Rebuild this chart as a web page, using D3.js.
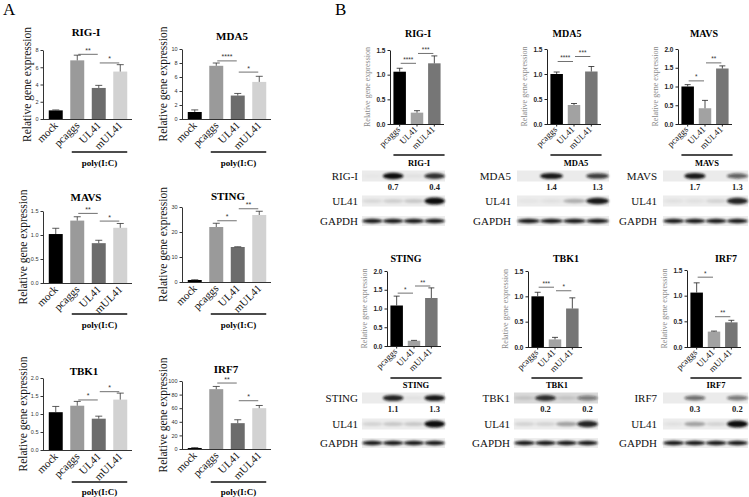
<!DOCTYPE html>
<html><head><meta charset="utf-8">
<script src="https://cdn.jsdelivr.net/npm/d3@7"></script>
<style>body{margin:0;background:#fff}svg{display:block}</style>
</head><body>
<svg id="c" width="749" height="497"></svg>
<script>
// ---------------- DATA ----------------
// Panel A (qPCR, poly(I:C) stimulated)
const aCategories = ["mock", "pcaggs", "UL41", "mUL41"];
const aGroupLabel = "poly(I:C)";
const aGenes = ["RIG-I", "MDA5", "MAVS", "STING", "TBK1", "IRF7"];
const aRigiMean = [1.0, 6.8, 3.6, 5.5];
const aRigiTop  = [1.05, 7.4, 3.9, 6.3];
const aRigiTicks = ["0", "2", "4", "6", "8"];
const aRigiSig = [[1, 2, "**", 7.5], [2, 3, "*", 6.5]];
const aMda5Mean = [1.0, 7.6, 3.35, 5.3];
const aMda5Top  = [1.3, 8.0, 3.65, 6.1];
const aMda5Ticks = ["0", "2", "4", "6", "8", "10"];
const aMda5Sig = [[1, 2, "****", 8.3], [2, 3, "*", 6.7]];
const aMavsMean = [1.02, 1.30, 0.83, 1.15];
const aMavsTop  = [1.14, 1.38, 0.89, 1.24];
const aMavsTicks = ["0.0", "0.5", "1.0", "1.5"];
const aMavsSig = [[1, 2, "**", 1.45], [2, 3, "*", 1.29]];
const aStingMean = [0.8, 22, 14, 26.8];
const aStingTop  = [0.9, 23.5, 14.1, 28.3];
const aStingTicks = ["0", "10", "20", "30"];
const aStingSig = [[1, 2, "*", 24.5], [2, 3, "**", 29.3]];
const aTbk1Mean = [1.05, 1.23, 0.87, 1.40];
const aTbk1Top  = [1.21, 1.35, 0.94, 1.58];
const aTbk1Ticks = ["0.0", "0.5", "1.0", "1.5", "2.0"];
const aTbk1Sig = [[1, 2, "*", 1.39], [2, 3, "*", 1.62]];
const aIrf7Mean = [1.5, 88, 38, 60];
const aIrf7Top  = [2, 92, 43, 64];
const aIrf7Ticks = ["0", "20", "40", "60", "80", "100"];
const aIrf7Sig = [[1, 2, "**", 97], [2, 3, "*", 71]];

// Panel B (qPCR + western blot)
const bCategories = ["pcaggs", "UL41", "mUL41"];
const bRigiMean = [1.06, 0.23, 1.23];
const bRigiTop  = [1.13, 0.27, 1.38];
const bMda5Mean = [1.0, 0.38, 1.05];
const bMda5Top  = [1.04, 0.41, 1.15];
const bMavsMean = [1.0, 0.42, 1.48];
const bMavsTop  = [1.05, 0.63, 1.55];
const bStingMean = [1.08, 0.14, 1.28];
const bStingTop  = [1.33, 0.15, 1.55];
const bTbk1Mean = [1.0, 0.15, 0.76];
const bTbk1Top  = [1.08, 0.19, 0.97];
const bIrf7Mean = [1.06, 0.30, 0.48];
const bIrf7Top  = [1.25, 0.31, 0.52];
const bTicks15 = ["0.0", "0.5", "1.0", "1.5"];
const bTicks20 = ["0.0", "0.5", "1.0", "1.5", "2.0"];
const bRigiSig = [[0, 1, "****", 1.23], [1, 2, "***", 1.43]];
const bMda5Sig = [[0, 1, "****", 1.25], [1, 2, "***", 1.35]];
const bMavsSig = [[0, 1, "*", 1.15], [1, 2, "**", 1.63]];
const bStingSig = [[0, 1, "*", 1.41], [1, 2, "**", 1.6]];
const bTbk1Sig = [[0, 1, "***", 1.18], [1, 2, "*", 1.11]];
const bIrf7Sig = [[0, 1, "*", 1.36], [1, 2, "**", 0.59]];

// Western blot band intensities (4 lanes) and quantification numbers
const blotRigi = [0.02, 0.95, 0.05, 0.8];   const blotRigiNums = ["0.7", "0.4"];
const blotMda5 = [0.0, 0.9, 0.0, 0.75];     const blotMda5Nums = ["1.4", "1.3"];
const blotMavs = [0.0, 0.9, 0.0, 0.6];      const blotMavsNums = ["1.7", "1.3"];
const blotSting = [0.0, 0.85, 0.05, 0.9];   const blotStingNums = ["1.1", "1.3"];
const blotTbk1 = [0.1, 0.8, 0.1, 0.45];     const blotTbk1Nums = ["0.2", "0.2"];
const blotIrf7 = [0.0, 0.55, 0.0, 0.5];     const blotIrf7Nums = ["0.3", "0.2"];
const blotUl41Rigi = [0.08, 0.12, 0.15, 1.0];
const blotUl41Mda5 = [0.03, 0.05, 0.25, 0.9];
const blotUl41Mavs = [0.05, 0.05, 0.1, 0.85];
const blotUl41Sting = [0.1, 0.15, 0.15, 0.95];
const blotUl41Tbk1 = [0.1, 0.1, 0.3, 0.85];
const blotUl41Irf7 = [0.05, 0.3, 0.1, 1.0];
const blotGapdh = [0.9, 0.9, 0.9, 0.9];

// ---------------- DRAWING ----------------
const svg = d3.select("#c");
const SERIF = "'Liberation Serif','Times New Roman',serif";
const SANS = "'Liberation Sans',Arial,sans-serif";
const aColors = ["#000000", "#9a9a9a", "#6c6c6c", "#d2d2d2"];
const bColors = ["#000000", "#a2a2a2", "#767676"];

const defs = svg.append("defs");
defs.append("filter").attr("id", "blur").attr("x", "-20%").attr("y", "-50%").attr("width", "140%").attr("height", "200%")
  .append("feGaussianBlur").attr("stdDeviation", 0.9);

function barChart(c) {
  const g = svg.append("g");
  const tickVals = c.ticks.map(Number);
  const y = d3.scaleLinear().domain([0, d3.max(tickVals)]).range([c.yBot, c.yTop]);
  const x = d3.scaleBand().domain(c.cats).range([c.axisX + c.r0, c.axisX + c.r1])
    .paddingInner(c.pi).paddingOuter(c.po);
  const cx = d => x(d) + x.bandwidth() / 2;

  // bars
  g.selectAll("rect.bar").data(c.cats).join("rect")
    .attr("x", d => x(d)).attr("width", x.bandwidth())
    .attr("y", (d, i) => y(c.means[i])).attr("height", (d, i) => c.yBot - y(c.means[i]))
    .attr("fill", (d, i) => c.colors[i]);
  // error bars (upper)
  const eb = g.selectAll("g.err").data(c.cats).join("g").attr("stroke", c.axisColor).attr("stroke-width", 0.8);
  eb.append("line").attr("x1", cx).attr("x2", cx)
    .attr("y1", (d, i) => y(c.means[i])).attr("y2", (d, i) => y(c.tops[i]));
  eb.append("line").attr("x1", d => cx(d) - c.cap).attr("x2", d => cx(d) + c.cap)
    .attr("y1", (d, i) => y(c.tops[i])).attr("y2", (d, i) => y(c.tops[i]));

  // y axis
  const ya = g.append("g").attr("transform", `translate(${c.axisX},0)`)
    .call(d3.axisLeft(y).tickValues(tickVals).tickFormat((d, i) => c.ticks[i]).tickSize(c.tickLen).tickSizeOuter(0).tickPadding(2));
  ya.select(".domain").attr("stroke", c.axisColor).attr("stroke-width", c.axisW);
  ya.selectAll(".tick line").attr("stroke", c.axisColor).attr("stroke-width", c.axisW);
  ya.selectAll(".tick text").attr("font-family", SANS).attr("font-size", c.tickFont)
    .attr("font-weight", c.tickWeight).attr("fill", c.tickColor);

  // x axis
  const xa = g.append("g").attr("transform", `translate(0,${c.yBot})`)
    .call(d3.axisBottom(x).tickSize(c.xTickLen).tickSizeOuter(0).tickFormat(""));
  xa.select(".domain").attr("d", `M${c.axisX},0.5H${c.axisX + c.r1 + 1}`).attr("stroke", c.axisColor).attr("stroke-width", c.axisW);
  xa.selectAll(".tick line").attr("stroke", c.axisColor).attr("stroke-width", c.axisW);

  // category labels
  g.selectAll("text.cat").data(c.cats).join("text")
    .attr("transform", d => `translate(${cx(d) + c.catDx},${c.yBot + c.catDy}) rotate(-45)`)
    .attr("text-anchor", "end").attr("font-family", SERIF).attr("font-size", c.catFont)
    .attr("fill", "#111").text(d => d);

  // y label
  g.append("text").attr("transform", `translate(${c.axisX + c.ylabDx},${(c.yTop + c.yBot) / 2 + c.ylabDy}) rotate(-90)`)
    .attr("text-anchor", "middle").attr("font-family", SERIF).attr("font-size", c.ylabFont)
    .attr("fill", c.ylabColor).text("Relative  gene  expression");

  // title
  g.append("text").attr("x", c.titleX).attr("y", c.titleY).attr("text-anchor", "middle")
    .attr("font-family", SERIF).attr("font-weight", "bold").attr("font-size", c.titleFont).text(c.title);

  // significance brackets
  const sg = g.selectAll("g.sig").data(c.sig).join("g");
  sg.append("line").attr("x1", d => cx(c.cats[d[0]]) + 1).attr("x2", d => cx(c.cats[d[1]]) - 1)
    .attr("y1", d => y(d[3])).attr("y2", d => y(d[3])).attr("stroke", "#333").attr("stroke-width", 0.7);
  sg.append("text").attr("x", d => (cx(c.cats[d[0]]) + cx(c.cats[d[1]])) / 2).attr("y", d => y(d[3]) + c.sigDy)
    .attr("text-anchor", "middle").attr("font-family", SANS).attr("font-size", c.sigFont).attr("fill", "#333").text(d => d[2]);

  // group line + label
  const gx0 = x(c.cats[c.groupFrom]) + c.groupInset, gx1 = x(c.cats[c.cats.length - 1]) + x.bandwidth() + c.groupExtra;
  g.append("line").attr("x1", gx0).attr("x2", gx1).attr("y1", c.groupY).attr("y2", c.groupY)
    .attr("stroke", "#111").attr("stroke-width", 1.3);
  g.append("text").attr("x", (gx0 + gx1) / 2).attr("y", c.groupTextY).attr("text-anchor", "middle")
    .attr("font-family", SERIF).attr("font-weight", "bold").attr("font-size", c.groupFont).text(c.group);
}

function aChart(o) {
  barChart(Object.assign({
    cats: aCategories, colors: aColors, r0: 2, r1: 88, pi: 0.35, po: 0.175, cap: 3.5,
    axisColor: "#333", axisW: 1, tickLen: 2.5, xTickLen: 0, tickFont: 5.5, tickWeight: "normal", tickColor: "#333",
    catDx: 3, catDy: 7, catFont: 11, ylabDx: -14, ylabDy: 0, ylabFont: 11.5, ylabColor: "#111",
    titleFont: 11, sigFont: 7, sigDy: -1.5, group: aGroupLabel, groupFrom: 1, groupInset: 1.5, groupExtra: 0,
    groupFont: 9
  }, o));
}
function bChart(o) {
  barChart(Object.assign({
    cats: bCategories, colors: bColors, r0: 1, r1: 53, pi: 0.28, po: 0.14, cap: 3,
    axisColor: "#222", axisW: 1, tickLen: 2.5, xTickLen: 2.5, tickFont: 6.5, tickWeight: "bold", tickColor: "#222",
    catDx: 1, catDy: 6, catFont: 9, ylabDx: -20, ylabDy: 0, ylabFont: 8, ylabColor: "#8a8a8a",
    titleFont: 10, sigFont: 6.5, sigDy: -1.5, groupFrom: 0, groupInset: 0, groupExtra: 4,
    groupFont: 8.5
  }, o));
}

// Panel A
aChart({ title: aGenes[0], means: aRigiMean, tops: aRigiTop, ticks: aRigiTicks, sig: aRigiSig,
  axisX: 43, yTop: 50, yBot: 119, titleX: 86, titleY: 36, groupY: 152, groupTextY: 166, ylabDx: -12 });
aChart({ title: aGenes[1], means: aMda5Mean, tops: aMda5Top, ticks: aMda5Ticks, sig: aMda5Sig,
  axisX: 182, yTop: 49, yBot: 119, titleX: 232, titleY: 40, groupY: 152, groupTextY: 166, ylabDx: -15 });
aChart({ title: aGenes[2], means: aMavsMean, tops: aMavsTop, ticks: aMavsTicks, sig: aMavsSig,
  axisX: 43, yTop: 211, yBot: 283, titleX: 86, titleY: 201, groupY: 314, groupTextY: 328, ylabDx: -16 });
aChart({ title: aGenes[3], means: aStingMean, tops: aStingTop, ticks: aStingTicks, sig: aStingSig,
  axisX: 182, yTop: 207, yBot: 282, titleX: 228, titleY: 200, groupY: 314, groupTextY: 328, ylabDx: -15 });
aChart({ title: aGenes[4], means: aTbk1Mean, tops: aTbk1Top, ticks: aTbk1Ticks, sig: aTbk1Sig,
  axisX: 43, yTop: 378, yBot: 450, titleX: 84, titleY: 375, groupY: 482, groupTextY: 495, ylabDx: -16 });
aChart({ title: aGenes[5], means: aIrf7Mean, tops: aIrf7Top, ticks: aIrf7Ticks, sig: aIrf7Sig,
  axisX: 182, yTop: 381, yBot: 449, titleX: 226, titleY: 373, groupY: 482, groupTextY: 495, ylabDx: -15 });

// Panel B charts
bChart({ title: "RIG-I", group: "RIG-I", means: bRigiMean, tops: bRigiTop, ticks: bTicks15, sig: bRigiSig,
  axisX: 390, yTop: 50, yBot: 124, titleX: 418, titleY: 37, groupY: 155, groupTextY: 166 });
bChart({ title: "MDA5", group: "MDA5", means: bMda5Mean, tops: bMda5Top, ticks: bTicks15, sig: bMda5Sig,
  axisX: 547, yTop: 49, yBot: 124, titleX: 567, titleY: 37, groupY: 155, groupTextY: 166 });
bChart({ title: "MAVS", group: "MAVS", means: bMavsMean, tops: bMavsTop, ticks: bTicks20, sig: bMavsSig,
  axisX: 678, yTop: 49, yBot: 124, titleX: 704, titleY: 37, groupY: 155, groupTextY: 166 });
bChart({ title: "STING", group: "STING", means: bStingMean, tops: bStingTop, ticks: bTicks20, sig: bStingSig,
  axisX: 387, yTop: 271, yBot: 346, titleX: 406, titleY: 262, groupY: 378, groupTextY: 388 });
bChart({ title: "TBK1", group: "TBK1", means: bTbk1Mean, tops: bTbk1Top, ticks: bTicks15, sig: bTbk1Sig,
  axisX: 528, yTop: 271, yBot: 347, titleX: 566, titleY: 262, groupY: 378, groupTextY: 388 });
bChart({ title: "IRF7", group: "IRF7", means: bIrf7Mean, tops: bIrf7Top, ticks: bTicks15, sig: bIrf7Sig,
  axisX: 687, yTop: 270, yBot: 347, titleX: 726, titleY: 262, groupY: 378, groupTextY: 388 });

// Western blots
function blot(b) {
  const g = svg.append("g");
  const lanes = d3.range(4);
  const x = d3.scaleBand().domain(lanes).range([b.x0, b.x1]);
  const rows = [
    { label: b.target, vals: b.targetVals, y: b.yT, h: 11, th: 5.5, bg: b.bg },
    { label: "UL41", vals: b.ul41Vals, y: b.yU, h: 11, th: 6, bg: "#ececec" },
    { label: "GAPDH", vals: blotGapdh, y: b.yG, h: 10, th: 3.5, bg: "#ededed" }
  ];
  rows.forEach(r => {
    g.append("text").attr("x", b.labelX).attr("y", r.y + 4).attr("text-anchor", "end")
      .attr("font-family", SERIF).attr("font-size", 11).attr("fill", "#111").text(r.label);
    g.append("rect").attr("x", b.x0).attr("y", r.y - r.h / 2).attr("width", b.x1 - b.x0).attr("height", r.h).attr("fill", r.bg);
    g.append("g").attr("filter", "url(#blur)").selectAll("ellipse").data(r.vals).join("ellipse")
      .attr("cx", (d, i) => x(i) + x.bandwidth() / 2).attr("cy", r.y)
      .attr("rx", x.bandwidth() * 0.5).attr("ry", d => r.th * (0.45 + 0.55 * d) / 2 + 0.5)
      .attr("fill", "#111").attr("opacity", d => Math.min(1, d * 1.05));
  });
  g.selectAll("text.num").data(b.nums).join("text")
    .attr("x", (d, i) => x(1 + 2 * i) + x.bandwidth() / 2).attr("y", b.yT + 14).attr("text-anchor", "middle")
    .attr("font-family", SERIF).attr("font-weight", "bold").attr("font-size", 8.5).attr("fill", "#222").text(d => d);
}
blot({ target: "RIG-I", targetVals: blotRigi, ul41Vals: blotUl41Rigi, nums: blotRigiNums, labelX: 358, x0: 362, x1: 445, yT: 176, yU: 201, yG: 221, bg: "#ebebeb" });
blot({ target: "MDA5", targetVals: blotMda5, ul41Vals: blotUl41Mda5, nums: blotMda5Nums, labelX: 511, x0: 517, x1: 609, yT: 176, yU: 201, yG: 221, bg: "#ebebeb" });
blot({ target: "MAVS", targetVals: blotMavs, ul41Vals: blotUl41Mavs, nums: blotMavsNums, labelX: 657, x0: 663, x1: 748, yT: 176, yU: 201, yG: 221, bg: "#ebebeb" });
blot({ target: "STING", targetVals: blotSting, ul41Vals: blotUl41Sting, nums: blotStingNums, labelX: 358, x0: 362, x1: 445, yT: 398, yU: 424, yG: 443, bg: "#ebebeb" });
blot({ target: "TBK1", targetVals: blotTbk1, ul41Vals: blotUl41Tbk1, nums: blotTbk1Nums, labelX: 510, x0: 514, x1: 598, yT: 398, yU: 424, yG: 443, bg: "#d9d9d9" });
blot({ target: "IRF7", targetVals: blotIrf7, ul41Vals: blotUl41Irf7, nums: blotIrf7Nums, labelX: 657, x0: 663, x1: 748, yT: 398, yU: 424, yG: 443, bg: "#ebebeb" });

// panel letters
svg.append("text").attr("x", 3).attr("y", 15).attr("font-family", SERIF).attr("font-size", 17).text("A");
svg.append("text").attr("x", 335).attr("y", 15).attr("font-family", SERIF).attr("font-size", 17).text("B");
</script>
</body></html>
